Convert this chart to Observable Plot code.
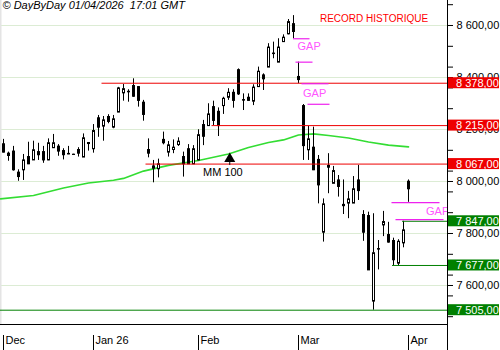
<!DOCTYPE html>
<html><head><meta charset="utf-8">
<script src="https://cdn.jsdelivr.net/npm/d3@7"></script>
<script src="https://cdn.jsdelivr.net/npm/@observablehq/plot@0.6"></script>
<style>
body{margin:0;background:#fff;}
#chart svg{display:block;}
</style>
</head><body><div id="chart"></div>
<script>
// ---- daily candles (index 0 = first session shown, 81 = 1 Apr 2026)
const open  = [8145,8100,8117,8036,8045,8096,8083,8115,8115,8083,8130,8136,8119,8108,8105,8123,8094,8150,8126,8245,
               8213,8250,8209,8267,8341,8347,8369,8365,8305,8123,8051,8049,8162,8113,8123,8142,8096,8126,8068,8083,
               8219,8215,8288,8270,8292,8324,8343,8430,8315,8324,8309,8365,8410,8440,8494,8459,8538,8568,8607,8404,
               8292,8122,8132,8085,7805,8062,7993,8006,7912,7917,7917,8006,7873,7869,7540,7742,7833,7796,7773,7686,
               7764,8001];
const high  = [8162,8113,8135,8045,8104,8151,8155,8147,8135,8164,8181,8142,8126,8135,8105,8130,8183,8150,8219,8254,
               8250,8257,8254,8362,8373,8353,8395,8365,8312,8164,8081,8086,8190,8154,8160,8168,8113,8142,8138,8199,
               8235,8299,8309,8283,8324,8357,8353,8433,8337,8337,8372,8440,8414,8530,8536,8549,8564,8623,8638,8459,
               8296,8212,8209,8100,7933,8107,8058,8023,8006,7962,8019,8062,7888,7882,7876,7773,7885,7843,7782,7776,
               7847,8006];
const low   = [8110,8078,8040,8001,8004,8065,8083,8081,8070,8080,8130,8097,8083,8103,8104,8094,8094,8117,8109,8170,
               8155,8222,8203,8265,8309,8305,8324,8286,8232,8091,7995,8014,8141,8094,8107,8135,8017,8068,8068,8080,
               8138,8212,8215,8173,8258,8312,8282,8331,8273,8309,8292,8365,8350,8440,8472,8459,8536,8564,8549,8376,
               8081,8081,8042,7914,7767,7953,7993,7940,7873,7857,7917,7927,7770,7658,7505,7660,7788,7763,7677,7677,
               7745,7920];
const close = [8113,8109,8045,8019,8083,8068,8122,8103,8083,8149,8149,8117,8103,8106,8104,8109,8168,8146,8196,8209,
               8237,8231,8241,8360,8357,8345,8328,8312,8258,8109,8060,8068,8149,8141,8132,8155,8068,8068,8126,8180,
               8174,8260,8235,8215,8320,8343,8312,8337,8313,8312,8363,8424,8395,8517,8492,8517,8555,8615,8577,8392,
               8138,8164,8045,7987,7914,8055,8042,7981,7907,7933,7972,7965,7805,7660,7726,7740,7846,7767,7699,7770,
               7814,7972];

// ---- month separators on the time axis (session index) and labels
const monthTicks  = [0, 18, 39, 59, 81];
const monthLabels = ["Dec", "Jan 26", "Feb", "Mar", "Apr"];

// ---- price axis
const yTicks     = [7600, 7800, 8000, 8200, 8400, 8600];
const yMinorTicks = [8680, 8520, 8440, 8360, 8280, 8120, 8040, 7960, 7880, 7720, 7640, 7560, 7480];

// ---- 100-day moving average (read at sample sessions)
const maIdx = [-0.6, 6, 12, 17, 22, 24, 28, 33, 39, 45, 49, 53, 56, 59, 62, 65, 69, 73, 77, 81];
const maVal = [7933, 7946, 7975, 7994, 8005, 8012, 8040, 8062, 8081, 8106, 8131, 8150, 8160, 8179, 8183, 8177, 8167, 8152, 8140, 8133];

// ---- support / resistance levels
const levels     = [8378, 8215, 8067, 7847, 7677, 7505];
const levelStart = [19.7, 41.7, 28.5, 79.8, 77.8, -0.6];
const levelType  = ["res", "res", "res", "sup", "sup", "sup"];

// ---- gap markers
const gapY  = [8549, 8459, 8376, 8297, 7919, 7853];
const gapX1 = [58.0, 58.5, 59.7, 60.9, 77.7, 78.5];
const gapX2 = [61.3, 61.9, 65.1, 65.3, 87.3, 88.1];
const gapLabelX = [58.8, 59.9, 84.5];
const gapLabelY = [8519, 8337, 7885];

// ---- annotations
const maLabel = {x: 39.9, y: 8036, text: "MM 100"};
const maArrow = {x: 45.25, y: 8087, stemTop: 8078, stemBottom: 8062};
const recordLabel = {x: 74.1, y: 8626, text: "RECORD HISTORIQUE"};
const headerText = "© DayByDay 01/04/2026\u00a0 17:01 GMT";

// ---- frame
const xDomain = [-0.6, 88.8];
const yDomain = [7450, 8696.15];

const FONT = "'Liberation Sans', Arial, sans-serif";
const RED = "#ee0000", GREEN = "#008000", MAG = "#ee22ee", MAGTXT = "#ff55ff";
const fmt = v => d3.format(",.2f")(v).replace(/,/g, " ").replace(".", ",");

const rows = open.map((o, i) => ({i, o, h: high[i], l: low[i], c: close[i]}));
const ma = maIdx.map((x, k) => ({x, y: maVal[k]}));
const lv = levels.map((y, k) => ({y, x1: levelStart[k], color: levelType[k] === "res" ? RED : GREEN, label: fmt(y)}));
const gaps = gapY.map((y, k) => ({y, x1: gapX1[k], x2: gapX2[k]}));
const gapLabels = gapLabelX.map((x, k) => ({x, y: gapLabelY[k]}));

const yBottomBand = yDomain[0] - 26 / 0.26;   // bottom of the svg in price units
const yTickTop    = yDomain[0] - 11 / 0.26;   // top of month separators

const chart = Plot.plot({
  width: 500,
  height: 350,
  marginLeft: 0,
  marginRight: 53,
  marginTop: 0,
  marginBottom: 26,
  x: {domain: xDomain},
  y: {domain: yDomain},
  style: {fontFamily: FONT, fontSize: "11px", background: "#fff", overflow: "visible"},
  marks: [
    // grid
    Plot.ruleY(yTicks, {stroke: "#dcecd4", strokeWidth: 1}),
    Plot.ruleX([xDomain[0]], {y1: yDomain[0], y2: yDomain[1], stroke: "#e4e4e4", strokeWidth: 2}),
    // moving average
    Plot.line(ma, {x: "x", y: "y", stroke: "#33dd33", strokeWidth: 1.6}),
    // candles
    Plot.ruleX(rows, {x: "i", y1: "l", y2: "h", stroke: "black"}),
    Plot.rect(rows.filter(d => d.c >= d.o), {x1: d => d.i - 0.2, x2: d => d.i + 0.2, y1: "o", y2: "c", fill: "white", stroke: "black", dx: 0.5, dy: 0.5}),
    Plot.rect(rows.filter(d => d.c < d.o), {x1: d => d.i - 0.2, x2: d => d.i + 0.2, y1: "o", y2: "c", fill: "black", stroke: "black", dx: 0.5, dy: 0.5}),
    // levels
    Plot.ruleY(lv, {y: "y", x1: "x1", x2: xDomain[1], stroke: d => d.color, strokeWidth: 1}),
    // gaps
    Plot.ruleY(gaps, {y: "y", x1: "x1", x2: "x2", stroke: MAG, strokeWidth: 1.2}),
    Plot.text(gapLabels, {x: "x", y: "y", text: () => "GAP", fill: MAGTXT, textAnchor: "start", fontSize: 11, clip: true}),
    // MM 100 annotation
    Plot.ruleX([maArrow], {x: "x", y1: "stemTop", y2: "stemBottom", stroke: "black"}),
    Plot.dot([maArrow], {x: "x", y: "y", symbol: "triangle", r: 4.1, fill: "black"}),
    Plot.text([maLabel], {x: "x", y: "y", text: "text", textAnchor: "start", fill: "black", fontSize: 11}),
    // record
    Plot.text([recordLabel], {x: "x", y: "y", text: "text", fill: "#ff0000", fontSize: 10, fontWeight: "normal"}),
    // header
    Plot.text([headerText], {frameAnchor: "top-left", text: d => d, textAnchor: "start", lineAnchor: "top", dx: 2, dy: 1, fontStyle: "italic", fontSize: 11, fill: "black"}),
    // frame lines
    Plot.ruleY([yDomain[0]], {stroke: "black"}),
    Plot.ruleX([xDomain[1]], {y1: yBottomBand, y2: yDomain[1], stroke: "black"}),
    // x axis
    Plot.ruleX(monthTicks, {y1: yTickTop, y2: yBottomBand, stroke: "black"}),
    Plot.axisX(monthTicks, {tickSize: 0, tickPadding: 12, tickFormat: d => monthLabels[monthTicks.indexOf(d)], textAnchor: "start", dx: 2, label: null, fill: "black", fontSize: 11}),
    // y axis
    Plot.axisY(yMinorTicks, {anchor: "right", tickSize: 5, tickFormat: () => "", label: null}),
    Plot.axisY(yTicks, {anchor: "right", tickSize: 5, tickPadding: 4, tickFormat: fmt, label: null, fill: "black", fontSize: 11}),
    // level value boxes
    Plot.ruleY(lv, {
      y: "y",
      render(index, scales, values, dims) {
        const g = d3.create("svg:g");
        const x0 = dims.width - dims.marginRight + 1;
        for (const i of index) {
          const y = values.y[i];
          g.append("rect").attr("x", x0).attr("y", y - 5.5).attr("width", dims.width - x0 - 1).attr("height", 11).attr("fill", lv[i].color);
          g.append("text").attr("x", x0 + 8).attr("y", y).attr("dy", "0.36em").attr("fill", "white")
            .attr("text-anchor", "start").attr("font-family", FONT).attr("font-size", 11).text(lv[i].label);
        }
        return g.node();
      }
    })
  ]
});
document.getElementById("chart").appendChild(chart);
</script>
</body></html>
